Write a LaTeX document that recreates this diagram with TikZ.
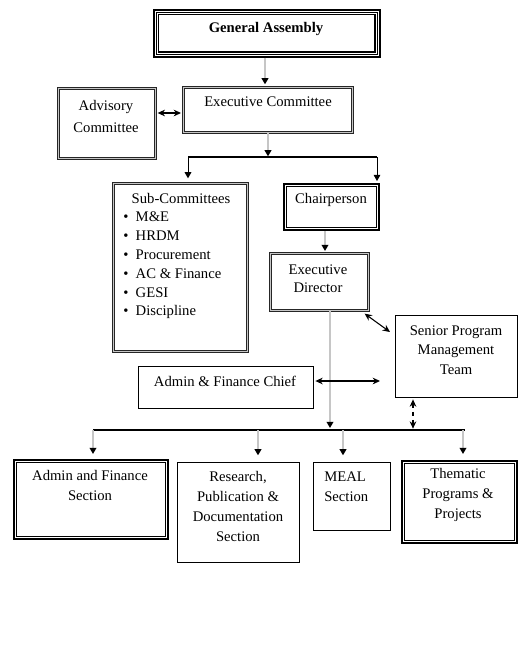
\documentclass[tikz,border=0pt]{standalone}
\usepackage{fontspec}
\setmainfont{Liberation Serif}
\usetikzlibrary{arrows.meta}
\begin{document}
\begin{tikzpicture}[x=0.75pt,y=-0.75pt,
  box/.style={rectangle, inner sep=0pt, anchor=north west},
  plainbox/.style={box, draw, line width=0.8pt},
  thkbox/.style={box, draw, line width=1.5pt},
  shbox/.style={box, draw=black!85, double=gray!45, double distance=1.2pt, line width=0.5pt},
  txt/.style={inner sep=0pt, align=center, font=\fontsize{11}{15}\selectfont},
  garr/.style={draw=gray!45, line width=1.1pt, -{Triangle[color=black,fill=black,length=4.6pt,width=5pt]}},
  barr/.style={draw=black, line width=0.7pt, -{Triangle[color=black,fill=black,length=4.6pt,width=5pt]}},
  dblarr/.style={draw=black, line width=0.8pt, {Stealth[length=5.5pt,width=5pt]}-{Stealth[length=5.5pt,width=5pt]}},
  busline/.style={draw=black, line width=0.9pt}
]
\useasboundingbox (0,0) rectangle (531,650);

% ---------- boxes ----------
\node[thkbox, line width=1.4pt, minimum width=169.5pt, minimum height=35.25pt] (ga) at (153,9) {};
\draw[line width=0.7pt] ([shift={(3,3)}]ga.north west) rectangle ([shift={(-3,-3)}]ga.south east);
\draw[line width=1.4pt] ([shift={(5.5,5.5)}]ga.north west) rectangle ([shift={(-5.5,-5.5)}]ga.south east);

\node[shbox, minimum width=126.75pt, minimum height=33.75pt] (ec) at (183,87) {};
\node[shbox, minimum width=72.75pt, minimum height=52.5pt] (adv) at (58,88) {};
\node[shbox, minimum width=100.5pt, minimum height=126pt] (sc) at (113,183) {};
\node[thkbox, minimum width=71.25pt, minimum height=34.5pt] (chair) at (283,183) {};
\node[shbox, minimum width=73.5pt, minimum height=42.75pt] (ed) at (270,253) {};
\node[plainbox, minimum width=91.5pt, minimum height=61.5pt] (spmt) at (395,315) {};
\node[plainbox, minimum width=131.25pt, minimum height=31.5pt] (chief) at (138,366) {};
\node[thkbox, minimum width=115.5pt, minimum height=59.25pt] (afs) at (13,459) {};
\node[plainbox, minimum width=91.5pt, minimum height=75pt] (res) at (177,462) {};
\node[plainbox, minimum width=57.75pt, minimum height=51pt] (meal) at (313,462) {};
\node[thkbox, minimum width=86.25pt, minimum height=61.5pt] (them) at (401,460) {};

\foreach \n in {chair,afs,them}
  \draw[line width=0.6pt] ([shift={(3.5,3.5)}]\n.north west) rectangle ([shift={(-3.5,-3.5)}]\n.south east);

% ---------- texts ----------
\node[txt, font=\bfseries\fontsize{11}{13}\selectfont] (gat) at (266,29) {General Assembly};
\node[txt] (ect) at (268,102) {Executive Committee};
\node[txt, font=\fontsize{11}{16.5}\selectfont] (advt) at (106,116) {Advisory\\Committee};
\node[txt] (sct) at (181,198) {Sub-Committees};
\foreach \t/\yy [count=\i] in {M\&E/217, HRDM/236, Procurement/255, AC \& Finance/274, GESI/293, Discipline/312}
  \node[txt, anchor=west] (sci\i) at (123,\yy) {\textbullet\hspace{5.5pt}\t};
\node[txt] (chairt) at (331,200) {Chairperson};
\node[txt, font=\fontsize{11}{13.5}\selectfont] (edt) at (318,279) {Executive\\Director};
\node[txt, font=\fontsize{11}{14.6}\selectfont] (spmtt) at (456,350) {Senior Program\\Management\\Team};
\node[txt] (chieft) at (225,381) {Admin \& Finance Chief};
\node[txt] (afst) at (90,485) {Admin and Finance\\Section};
\node[txt] (rest) at (238,506) {Research,\\Publication \&\\Documentation\\Section};
\node[txt, align=left, anchor=west] (mealt) at (324,487) {MEAL\\Section};
\node[txt] (themt) at (458,495) {Thematic\\Programs \&\\Projects};

% ---------- bus coordinates ----------
\coordinate (busA) at (188,157);
\coordinate (busB) at (377,157);
\coordinate (busC) at (93,430);
\coordinate (busD) at (465,430);
\coordinate (chiefR) at (380,381);

% ---------- connectors ----------
\draw[garr] (ga.south -| 265,0) -- ([yshift=2pt]ec.north -| 265,0);
\draw[dblarr] ([xshift=1.5]adv.east |- 0,113) -- ([xshift=-1.5]ec.west |- 0,113);
\draw[garr] (ec.south -| 268,0) -- ([yshift=0.5pt]busA -| 268,0);
\draw[busline] (busA) -- (busB);
\draw[barr] (busA) -- ([yshift=3.5pt]sc.north -| busA);
\draw[barr] (busB) -- ([yshift=1.5pt]chair.north -| busB);
\draw[garr] (chair.south -| 325,0) -- ([yshift=1.5pt]ed.north -| 325,0);
\draw[dblarr] ([shift={(-4,3)}]ed.south east) -- ([shift={(-5,17)}]spmt.north west);
\draw[garr] (ed.south -| 330,0) -- ([yshift=1.5pt]busC -| 330,0);
\draw[dblarr] ([xshift=1]chief.east |- chiefR) -- (chiefR);
\draw[dblarr, dashed] ([yshift=-1pt]spmt.south -| 413,0) -- ([yshift=1pt]busD -| 413,0);
\draw[busline] (busC) -- (busD);
\draw[garr] (busC) -- ([yshift=3.75pt]afs.north -| busC);
\draw[garr] (busC -| 258,0) -- ([yshift=5pt]res.north -| 258,0);
\draw[garr] (busC -| 343,0) -- ([yshift=5pt]meal.north -| 343,0);
\draw[garr] (busC -| 463,0) -- ([yshift=4.5pt]them.north -| 463,0);
\end{tikzpicture}
\end{document}
